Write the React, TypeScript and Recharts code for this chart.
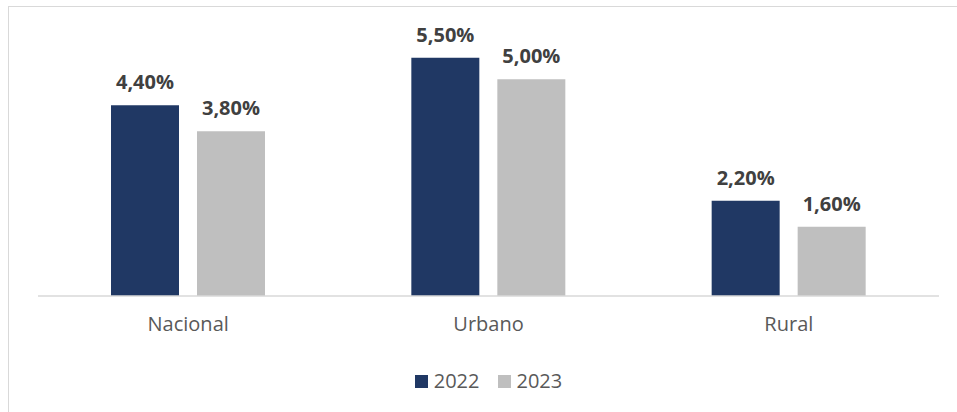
import { BarChart, Bar, XAxis, YAxis, Legend, LabelList } from "recharts";

const categories = ["Nacional", "Urbano", "Rural"];
const values2022 = [4.4, 5.5, 2.2];
const values2023 = [3.8, 5.0, 1.6];
const yDomain: [number, number] = [0, 6];

const series = [
  { key: "y2022", label: "2022", color: "#203864" },
  { key: "y2023", label: "2023", color: "#bfbfbf" },
];

const data = categories.map((name, i) => ({
  name,
  y2022: values2022[i],
  y2023: values2023[i],
}));

const FONT = "'Open Sans', 'Noto Sans', sans-serif";

const fmt = (v: number) => v.toFixed(2).replace(".", ",") + "%";

function LegendContent() {
  return (
    <div
      style={{
        display: "flex",
        justifyContent: "center",
        gap: 18,
        fontFamily: FONT,
        fontSize: 20,
        lineHeight: "24px",
        color: "#595959",
      }}
    >
      {series.map((s) => (
        <div key={s.key} style={{ display: "flex", alignItems: "center", gap: 6 }}>
          <span style={{ display: "inline-block", width: 13, height: 13, background: s.color }} />
          <span>{s.label}</span>
        </div>
      ))}
    </div>
  );
}

export default function App() {
  return (
    <div
      style={{
        position: "absolute",
        top: 0,
        left: 0,
        width: 957,
        height: 412,
        background: "#fff",
      }}
    >
      {/* frame edges visible in the crop */}
      <div style={{ position: "absolute", left: 8, top: 6, width: 949, height: 406, borderLeft: "1px solid #d9d9d9", borderTop: "1px solid #d9d9d9" }} />
      <BarChart
        width={957}
        height={412}
        data={data}
        margin={{ top: 36, right: 18, bottom: 27, left: 38 }}
        barCategoryGap={73}
        barGap={18}
        style={{ position: "absolute", left: 0, top: 0 }}
      >
        <XAxis
          dataKey="name"
          tickLine={false}
          axisLine={{ stroke: "#d9d9d9", strokeWidth: 1.5 }}
          tick={{ fontFamily: FONT, fontSize: 20, fill: "#595959" }}
          height={44}
          tickMargin={15}
        />
        <YAxis hide domain={yDomain} />
        <Legend
          verticalAlign="bottom"
          height={45}
          content={<LegendContent />}
          wrapperStyle={{ top: 369, bottom: "auto" }}
        />
        {series.map((s) => (
          <Bar key={s.key} dataKey={s.key} fill={s.color} barSize={68} isAnimationActive={false}>
            <LabelList
              dataKey={s.key}
              position="top"
              offset={16}
              formatter={(v: number) => fmt(v)}
              style={{ fontFamily: FONT, fontSize: 20, fontWeight: 700, fill: "#404040" }}
            />
          </Bar>
        ))}
      </BarChart>
    </div>
  );
}
